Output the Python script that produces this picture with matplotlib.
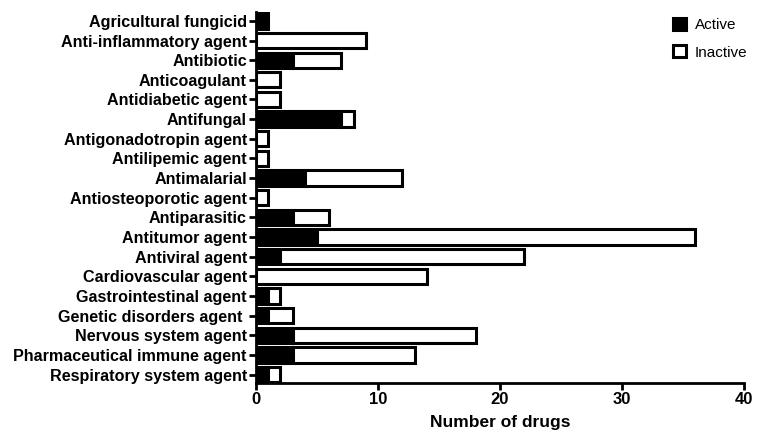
import matplotlib
matplotlib.use('Agg')
import matplotlib.pyplot as plt
import numpy as np

categories = ['Agricultural fungicid', 'Anti-inflammatory agent', 'Antibiotic',
              'Anticoagulant', 'Antidiabetic agent', 'Antifungal',
              'Antigonadotropin agent', 'Antilipemic agent', 'Antimalarial',
              'Antiosteoporotic agent', 'Antiparasitic', 'Antitumor agent',
              'Antiviral agent', 'Cardiovascular agent', 'Gastrointestinal agent',
              'Genetic disorders agent ', 'Nervous system agent',
              'Pharmaceutical immune agent', 'Respiratory system agent']
active = [1, 0, 3, 0, 0, 7, 0, 0, 4, 0, 3, 5, 2, 0, 1, 1, 3, 3, 1]
inactive = [0, 9, 4, 2, 2, 1, 1, 1, 8, 1, 3, 31, 20, 14, 1, 2, 15, 10, 1]
xticks = [0, 10, 20, 30, 40]

plt.rcParams['font.family'] = ['Liberation Sans', 'DejaVu Sans']

fig = plt.figure(figsize=(7.6, 4.32), dpi=100)
ax = fig.add_axes([256/760, 1 - 383/432, (744 - 256)/760, (383 - 12)/432])

y = np.arange(len(categories))
act = np.array(active)
ina = np.array(inactive)
h = 0.78
ax.barh(y, act, height=h, color='black', edgecolor='black', linewidth=2.2, label='Active')
mask = ina > 0
ax.barh(y[mask], ina[mask], left=act[mask], height=h, color='white',
        edgecolor='black', linewidth=2.2, label='Inactive')

ax.set_ylim(len(categories) - 1 + 0.42, -0.45)
ax.set_xlim(0, 40)
ax.set_xticks(xticks)
ax.set_xticklabels([str(t) for t in xticks], fontweight='bold', fontsize=12)
ax.set_yticks(y)
ax.set_yticklabels(categories, fontweight='bold', fontsize=11.6)
ax.tick_params(axis='both', width=2, length=5, direction='out', pad=1.5)

for s in ['top', 'right']:
    ax.spines[s].set_visible(False)
for s in ['left', 'bottom']:
    ax.spines[s].set_linewidth(2)

ax.set_xlabel('Number of drugs', fontweight='bold', fontsize=12.5, labelpad=6)

leg = ax.legend(loc='upper right', bbox_to_anchor=(1.035, 1.02), frameon=False,
                fontsize=11, handlelength=0.8, handleheight=0.8, handletextpad=0.6,
                labelspacing=0.85)

fig.savefig('out.png', dpi=100)
